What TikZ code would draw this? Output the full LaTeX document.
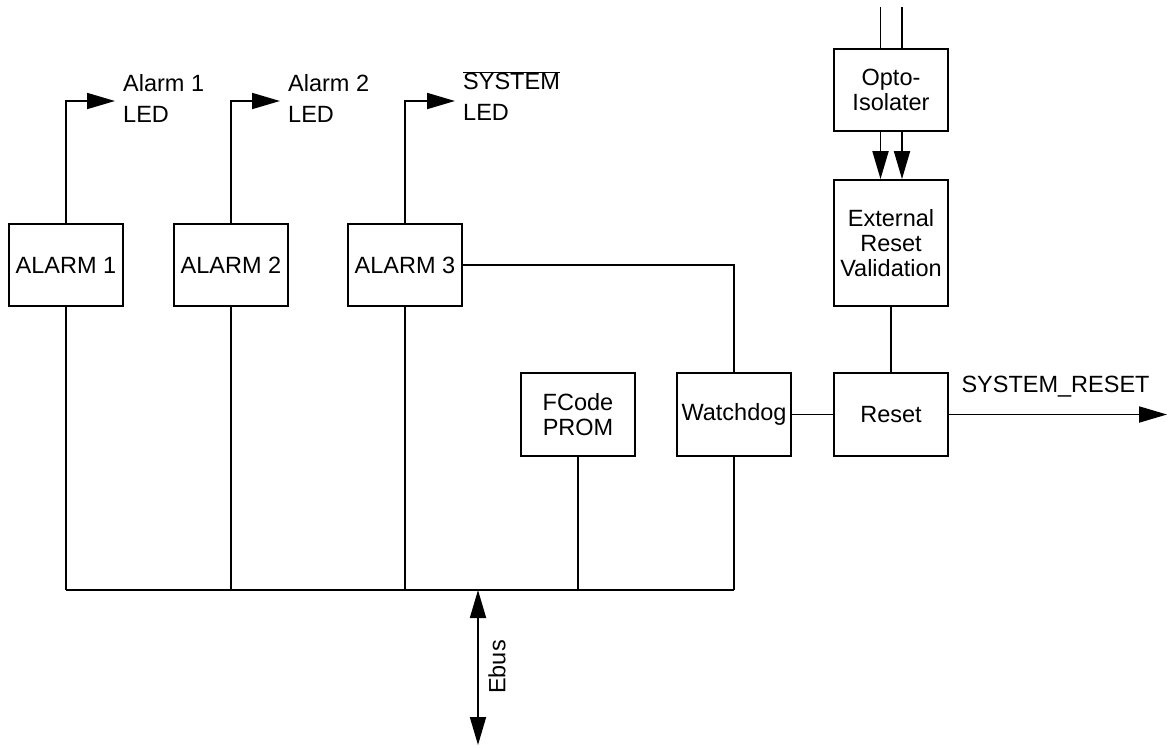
\documentclass[tikz,border=0pt]{standalone}
\usepackage{fontspec}
\setmainfont{Liberation Sans}
\usetikzlibrary{arrows.meta}
\begin{document}
\begin{tikzpicture}[x=1pt,y=-1pt,
  every node/.style={font=\fontsize{23.5}{25}\selectfont},
  blk/.style={draw,line width=1.8pt,minimum width=114pt,minimum height=82pt,inner sep=1pt,align=center},
  wire/.style={line width=1.8pt},
  arr/.style={wire,-{Triangle[length=28pt,width=16pt]}},
  darr/.style={wire,{Triangle[length=28pt,width=16pt]}-{Triangle[length=28pt,width=16pt]}},
  lbl/.style={align=left,inner sep=0pt,font=\fontsize{23.5}{31}\selectfont}
]
\useasboundingbox (0,0) rectangle (1169,747);
% blocks
\node[blk] (a1) at (66,265) {ALARM 1};
\node[blk] (a2) at (231,265) {ALARM 2};
\node[blk] (a3) at (405,265) {ALARM 3};
\node[blk,minimum height=83pt] (fc) at (578,414.5) {FCode\\PROM};
\node[blk,minimum height=83pt] (wd) at (734,414.5) {Watchdog};
\node[blk,minimum height=83pt] (rs) at (891,414.5) {Reset};
\node[blk,minimum height=126pt] (erv) at (891,243) {External\\Reset\\Validation};
\node[blk,minimum height=82pt] (opto) at (891,90) {Opto-\\Isolater};
% LED outputs
\coordinate (t1) at (115,101);
\coordinate (t2) at (280,101);
\coordinate (t3) at (455,101);
\draw[arr] (a1.north) |- (t1);
\draw[arr] (a2.north) |- (t2);
\draw[arr] (a3.north) |- (t3);
\node[lbl,anchor=west] (l1) at (123,98) {Alarm 1\\LED};
\node[lbl,anchor=west] (l2) at (288,98) {Alarm 2\\LED};
\node[lbl,anchor=west] (l3) at (463,96) {$\overline{\mbox{SYSTEM}}$\\LED};
% internal connections
\draw[wire] (a3.east) -| (wd.north);
\draw[wire] (wd.east) -- (rs.west);
\draw[wire] (erv.south) -- (rs.north);
% reset output
\coordinate (sr) at (1167,414.5);
\draw[arr] (rs.east) -- (sr);
\node[anchor=west] (srl) at (958,387) {SYSTEM\_RESET};
% opto inputs
\coordinate (in1) at (880.5,7);
\coordinate (in2) at (902,7);
\draw[wire] (in1) -- (in1 |- opto.north);
\draw[wire] (in2) -- (in2 |- opto.north);
\draw[arr] (in1 |- opto.south) -- (in1 |- erv.north);
\draw[arr] (in2 |- opto.south) -- (in2 |- erv.north);
% bus
\coordinate (busy) at (0,590);
\draw[wire] (a1.south) -- (a1.south |- busy);
\draw[wire] (a2.south) -- (a2.south |- busy);
\draw[wire] (a3.south) -- (a3.south |- busy);
\draw[wire] (fc.south) -- (fc.south |- busy);
\draw[wire] (wd.south) -- (wd.south |- busy);
\draw[wire] (a1.south |- busy) -- (wd.south |- busy);
% Ebus
\coordinate (eb1) at (478,590);
\coordinate (eb2) at (478,745);
\draw[darr] (eb1) -- (eb2);
\node[rotate=90] (ebl) at (497,667) {Ebus};
\end{tikzpicture}
\end{document}
